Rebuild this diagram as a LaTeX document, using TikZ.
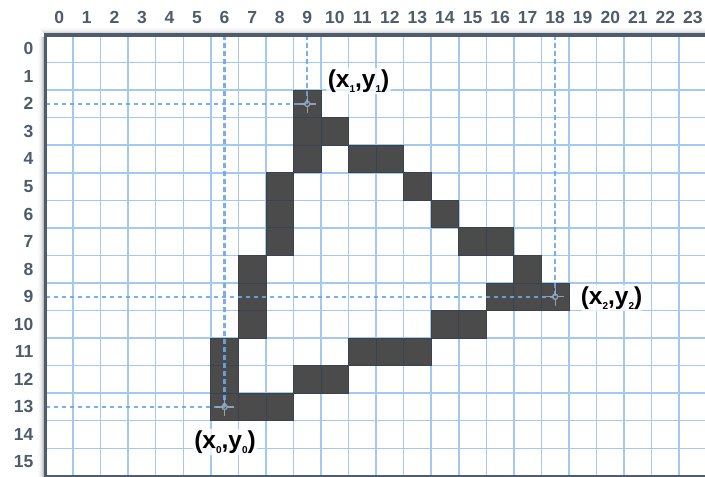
\documentclass[tikz,border=0pt]{standalone}
\usepackage{fontspec}
\setmainfont{Liberation Sans}
\definecolor{gridc}{HTML}{A3C9F2}
\definecolor{cellc}{HTML}{4B4B4B}
\definecolor{celld}{HTML}{3A434C}
\definecolor{dashc}{HTML}{6CA6EA}
\definecolor{borderc}{HTML}{4E5D6C}
\definecolor{labc}{HTML}{4F5C69}
\definecolor{crossc}{HTML}{9AAABD}
\newcommand\subs[1]{\raisebox{-0.22em}{\fontsize{10}{10}\selectfont #1}}
\tikzset{
  gridline/.style={gridc, line width=1.5pt},
  pixel/.style={fill=cellc, draw=celld, line width=0.8pt},
  guide/.style={dashc, opacity=0.9, line width=2.3pt, dash pattern=on 4.5pt off 3.5pt},
  crossmark/.style={crossc, line width=1.3pt, opacity=0.9},
  border/.style={borderc, line width=3.8pt},
  axlab/.style={font=\fontsize{17.5}{17.5}\bfseries\selectfont, text=labc, inner sep=0pt},
  ptlab/.style={font=\fontsize{24.5}{24.5}\bfseries\selectfont, text=black, fill=white, fill opacity=0.75, text opacity=1, rounded corners=4pt, inner sep=1.5pt}
}
\begin{document}
\begin{tikzpicture}[x=1pt,y=-1pt]
\def\s{27.55}
\def\ox{45.5}
\def\oy{35}
\useasboundingbox (0,0) rectangle (705,477);
\fill[white] (0,0) rectangle (705,477);
% shadows
\foreach \i/\o in {1/0.25,2/0.16,3/0.1,4/0.06,5/0.03,6/0.015} {
  \draw[black, opacity=\o, line width=1pt] ({\ox-1.9-\i+0.5},{\oy+2}) -- ({\ox-1.9-\i+0.5},477);
  \draw[black, opacity=\o*0.6, line width=1pt] ({\ox-1.9-\i+0.5},{\oy-1.9-\i+0.5}) -- (705,{\oy-1.9-\i+0.5});
}
% grid
\foreach \k in {1,...,24} \draw[gridline] ({\ox+\k*\s},\oy) -- ({\ox+\k*\s},476);
\foreach \k in {1,...,15} \draw[gridline] (\ox,{\oy+\k*\s}) -- (705,{\oy+\k*\s});
% pixels
\foreach \c/\r in {9/2,9/3,10/3,9/4,11/4,12/4,8/5,13/5,8/6,14/6,8/7,15/7,16/7,
  7/8,17/8,7/9,16/9,17/9,18/9,7/10,14/10,15/10,6/11,11/11,12/11,13/11,
  6/12,9/12,10/12,6/13,7/13,8/13}
  \draw[pixel] ({\ox+\c*\s},{\oy+\r*\s}) rectangle +(\s,\s);
% points
\coordinate (p0) at ({\ox+6.5*\s},{\oy+13.5*\s});
\coordinate (p1) at ({\ox+9.5*\s},{\oy+2.5*\s});
\coordinate (p2) at ({\ox+18.5*\s},{\oy+9.5*\s});
\foreach \p in {p0,p1,p2} {
  \draw[guide] (\ox,0 |- \p) -- (\p);
  \draw[guide] (\p |- 0,\oy) -- (\p);
}
\foreach \p in {p0,p1,p2} {
  \draw[crossmark] (\p) circle (2.6pt);
  \draw[crossmark] ([xshift=2.6pt]\p) -- ([xshift=9pt]\p);
  \draw[crossmark] ([xshift=-2.6pt]\p) -- ([xshift=-9pt]\p);
  \draw[crossmark] ([yshift=2.6pt]\p) -- ([yshift=9pt]\p);
  \draw[crossmark] ([yshift=-2.6pt]\p) -- ([yshift=-9pt]\p);
}
% borders
\draw[borderc, line width=1.5pt] (\ox,475.8) -- (705,475.8);
\draw[border] (\ox,{\oy-1.9}) -- (\ox,477);
\draw[border] ({\ox-1.9},\oy) -- (705,\oy);
% axis labels
\foreach \c in {0,...,23} \node[axlab] (c\c) at ({\ox+(\c+0.5)*\s},17.5) {\c};
\foreach \r in {0,...,15} \node[axlab, anchor=east] (r\r) at (33.5,{\oy+(\r+0.5)*\s}) {\r};
% point labels
\node[ptlab] (l1) at (358.5,81) {(x\subs{1},y\subs{1})};
\node[ptlab] (l2) at (611.5,298) {(x\subs{2},y\subs{2})};
\node[ptlab] (l0) at (225,442) {(x\subs{0},y\subs{0})};
\end{tikzpicture}
\end{document}
